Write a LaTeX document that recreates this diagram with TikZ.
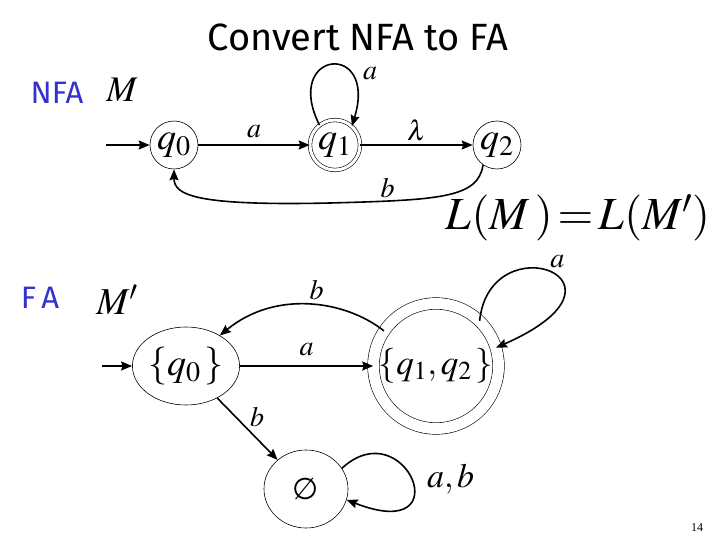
\documentclass[tikz,border=0pt]{standalone}
\usepackage{mathptmx}
\usepackage[no-math]{fontspec}
\setmainfont{Liberation Serif}
\newfontfamily\slidefont{Fira Sans}
\newfontfamily\symfont{DejaVu Sans}
\usetikzlibrary{arrows.meta,positioning,shapes.geometric}
\definecolor{fablue}{RGB}{51,51,204}
\newcommand{\fs}[1]{\fontsize{#1}{#1}\selectfont}
\tikzset{
    state/.style={circle, draw, line width=0.6pt, minimum size=48pt, inner sep=0pt, font=\fs{38}},
    accept/.style={state, double, double distance=3pt, minimum size=50pt},
    setstate/.style={ellipse, draw, line width=0.6pt, minimum width=83pt, minimum height=78pt, inner sep=0pt, font=\fs{38}},
    edge/.style={-{Stealth[length=11pt, width=9pt, inset=1.5pt]}, line width=1.6pt},
    lbl/.style={font=\fs{28}, inner sep=1pt},
    heading/.style={font=\slidefont\fs{31}, text=fablue, inner sep=0pt}
}

\begin{document}
\begin{tikzpicture}[x=1pt, y=-1pt]
    \useasboundingbox (0,0) rectangle (720,540);
    \node[font=\slidefont\fs{38}] (title) at (358,37) {Convert NFA to FA};

    \node[heading] (nfa) at (57,93) {NFA};
    \node[lbl, font=\fs{36}] (M) at (122,90) {$M$};
    \node[state] (q0) at (174,145) {$q_0$};
    \node[accept] (q1) at (335,145) {$q_1$};
    \node[state] (q2) at (497,145) {$q_2$};
    \coordinate (s0) at (106,145);

    \draw[edge] (s0) -- (q0);
    \draw[edge] (q0) -- node[lbl, above=5pt] {$a$} (q1);
    \draw[edge] (q1) -- node[lbl, above=2pt] {$\lambda$} (q2);
    \draw[edge] (q1.128) .. controls (282,50) and (378,40) .. (q1.48)
        node[lbl, pos=0.7, right=12pt] {$a$};
    \draw[edge] (q2.235) .. controls (478,198) and (440,200) .. (330,203)
        node[lbl, pos=0.8, above=1pt] {$b$}
        .. controls (195,206) and (174,195) .. (q0.south);

    \node[font=\fs{46}] (lang) at (578,218) {$L(M\,)\!=\!L(M')$};

    \node[heading] (fa) at (40,298) {F\,A};
    \node[lbl, font=\fs{38}] (Mp) at (117,300) {$M'$};
    \node[setstate] (Q0) at (186,366) {$\{q_0\,\}$};
    \node[state, double, double distance=11pt, minimum size=125pt, font=\fs{35}] (Q12) at (436,366) {$\{q_1,q_2\,\}$};
    \node[setstate, minimum width=84pt, font=\symfont\fs{30}] (E) at (306,489) {∅};
    \coordinate (s1) at (102,366);

    \draw[edge] (s1) -- (Q0);
    \draw[edge] (Q0) -- node[lbl, above=8pt] {$a$} (Q12);
    \draw[edge] (Q12.146) .. controls (345,300) and (275,290) .. (Q0.42)
        node[lbl, pos=0.45, above=3pt] {$b$};
    \draw[edge] (Q12.46) .. controls (490,222) and (650,280) .. (Q12.17)
        node[lbl, pos=0.55, xshift=2pt, yshift=14pt] {$a$};
    \draw[edge] (Q0) -- node[lbl, pos=0.3, right=13pt] {$b$} (E);
    \draw[edge] (E.30) .. controls (405,410) and (462,545) .. (E.-15)
        node[lbl, pos=0.5, right=14pt, font=\fs{34}] {$a,b$};

    \node[font=\fs{12}] (page) at (697,528) {14};
\end{tikzpicture}
\end{document}
